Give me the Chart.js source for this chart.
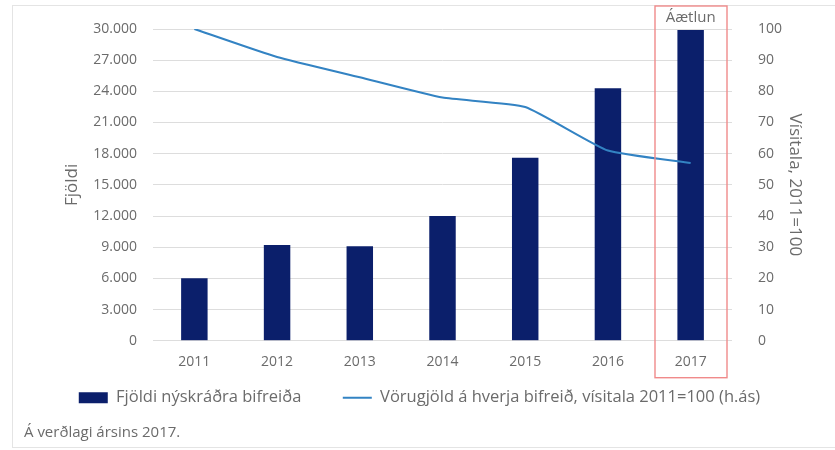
<!DOCTYPE html>
<html>
<head>
<meta charset="utf-8">
<script src="https://cdn.jsdelivr.net/npm/chart.js@4"></script>
<style>
  body { margin: 0; background: #fff; }
  #wrap { position: relative; width: 835px; height: 450px; overflow: hidden; }
  #frame { position: absolute; left: 12px; top: 5px; right: -2px; bottom: 2px; border: 1px solid #e4e4e4; }
  canvas { position: absolute; left: 0; top: 0; }
</style>
</head>
<body>
<div id="wrap">
  <div id="frame"></div>
  <canvas id="bilarChart" width="835" height="450"></canvas>
</div>
<script>
const years = ['2011', '2012', '2013', '2014', '2015', '2016', '2017'];
const fjoldi = [6000, 9200, 9100, 12000, 17600, 24300, 29900];
const visitala = [100, 91, 84.5, 78, 75, 61, 57];
const planYear = '2017';

const grey = '#6b6b6b';
const fontName = '"Open Sans", Lato, sans-serif';
Chart.defaults.font.family = fontName;
Chart.defaults.color = grey;

// red box round the planned year
const aaetlunBox = {
    id: 'aaetlunBox',
    afterDraw(chart) {
        const ctx = chart.ctx;
        const x = chart.scales.x;
        const i = years.indexOf(planYear);
        const step = x.getPixelForValue(1) - x.getPixelForValue(0);
        const cx = x.getPixelForValue(i);
        const w = step * 0.87;
        ctx.save();
        ctx.strokeStyle = '#f08a8a';
        ctx.lineWidth = 1.4;
        ctx.strokeRect(Math.round(cx - w / 2), 6, Math.round(w), chart.chartArea.bottom + 37 - 6);
        ctx.fillStyle = grey;
        ctx.font = '15px ' + fontName;
        ctx.textAlign = 'center';
        ctx.textBaseline = 'middle';
        ctx.fillText('Áætlun', cx, 18);
        ctx.restore();
    }
};

const ctx = document.getElementById('bilarChart').getContext('2d');
const bilarChart = new Chart(ctx, {
    type: 'bar',
    data: {
        labels: years,
        datasets: [{
            type: 'line',
            label: 'Vörugjöld á hverja bifreið, vísitala 2011=100 (h.ás)',
            data: visitala,
            yAxisID: 'y1',
            borderColor: '#3383c3',
            backgroundColor: '#3383c3',
            borderWidth: 2,
            pointRadius: 0,
            pointStyle: 'line',
            tension: 0.15,
            order: 0
        }, {
            label: 'Fjöldi nýskráðra bifreiða',
            data: fjoldi,
            yAxisID: 'y',
            backgroundColor: '#0b1f6b',
            pointStyle: 'rect',
            barPercentage: 0.32,
            categoryPercentage: 1,
            order: 1
        }]
    },
    options: {
        responsive: false,
        animation: false,
        layout: {
            padding: { top: 29, left: 24, right: 20, bottom: 2 }
        },
        scales: {
            x: {
                grid: { display: false },
                border: { display: false },
                ticks: { font: { size: 14 }, padding: 5 }
            },
            y: {
                position: 'left',
                min: 0,
                max: 30000,
                grid: { color: '#dddddd', drawTicks: false },
                border: { display: false },
                ticks: {
                    stepSize: 3000,
                    padding: 16,
                    font: { size: 14 },
                    callback: v => v.toLocaleString('de-DE')
                },
                title: { display: true, text: 'Fjöldi', font: { size: 17 }, padding: { top: 38, bottom: 0 } },
                afterFit: s => { s.width = 129; }
            },
            y1: {
                position: 'right',
                min: 0,
                max: 100,
                grid: { display: false },
                border: { display: false },
                ticks: { stepSize: 10, padding: 18, font: { size: 14 } },
                title: { display: true, text: 'Vísitala, 2011=100', font: { size: 17 }, padding: { top: 10, bottom: 0 } },
                afterFit: s => { s.width = 83; }
            }
        },
        plugins: {
            legend: {
                position: 'bottom',
                reverse: true,
                labels: {
                    usePointStyle: true,
                    pointStyleWidth: 29,
                    boxHeight: 11,
                    padding: 14,
                    font: { size: 16.5 },
                    color: grey,
                    generateLabels: chart => {
                        const items = Chart.defaults.plugins.legend.labels.generateLabels(chart);
                        // wider gap after the bar entry, as in the original
                        items.forEach(it => { if (it.datasetIndex === 1) it.text += '\u2003\u2002\u2009'; });
                        return items;
                    }
                }
            },
            title: {
                display: true,
                position: 'bottom',
                align: 'start',
                text: 'Á verðlagi ársins 2017.',
                font: { size: 15, weight: 'normal' },
                padding: { top: 8, bottom: 6 }
            },
            tooltip: { enabled: false }
        }
    },
    plugins: [aaetlunBox]
});
</script>
</body>
</html>
